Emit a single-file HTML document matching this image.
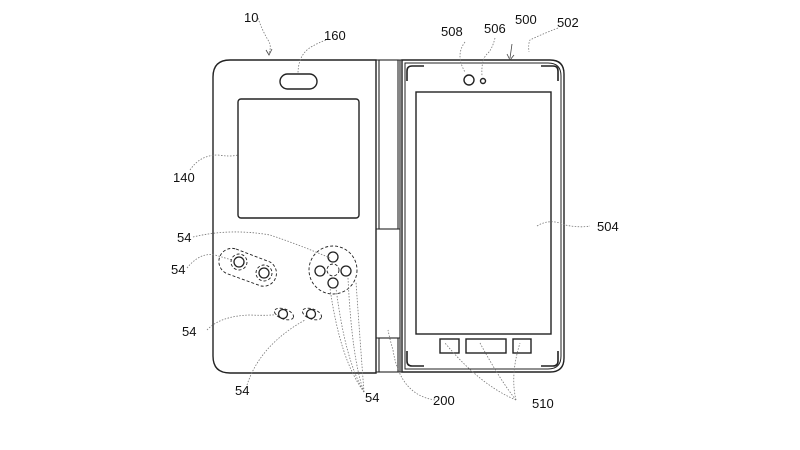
<!DOCTYPE html>
<html><head><meta charset="utf-8"><style>
html,body{margin:0;padding:0;background:#fff;}
svg{display:block}
text{font-family:"Liberation Sans",sans-serif;font-size:13px;fill:#111}
</style></head><body>
<svg width="800" height="450" viewBox="0 0 800 450" xmlns="http://www.w3.org/2000/svg">
<g fill="none" stroke="#222" stroke-width="1.4">
<path d="M376 60 H230 Q213 60 213 77 V356 Q213 373 230 373 H376 Z"/>
<rect x="238" y="99" width="121" height="119" rx="3"/>
<rect x="280" y="74" width="37" height="15" rx="7.5"/>
<g stroke-width="1.1">
<line x1="376" y1="60" x2="402" y2="60"/>
<line x1="376" y1="372" x2="402" y2="372"/>
<line x1="400" y1="60" x2="400" y2="372"/>
<rect x="379" y="60" width="19" height="169"/>
<rect x="379" y="338" width="19" height="34"/>
<line x1="376" y1="229" x2="400" y2="229"/>
<line x1="376" y1="338" x2="400" y2="338"/>
</g>
<path d="M402 60 H550 Q564 60 564 74 V358 Q564 372 550 372 H402 Z"/>
<path d="M405 63 H548 Q561 63 561 76 V356 Q561 369 548 369 H405 Z" stroke-width="1"/>
<path d="M407 81 V71 Q407 66 412 66 H424" stroke-width="1.6"/>
<path d="M541 66 H553 Q558 66 558 71 V81" stroke-width="1.6"/>
<path d="M407 351 V361 Q407 366 412 366 H424" stroke-width="1.6"/>
<path d="M541 366 H553 Q558 366 558 361 V351" stroke-width="1.6"/>
<rect x="416" y="92" width="135" height="242"/>
<rect x="440" y="339" width="19" height="14"/>
<rect x="466" y="339" width="40" height="14"/>
<rect x="513" y="339" width="18" height="14"/>
<circle cx="469" cy="80" r="5"/>
<circle cx="483" cy="81" r="2.5"/>
<g stroke-width="1.3">
<circle cx="333" cy="257" r="5"/><circle cx="320" cy="271" r="5"/>
<circle cx="346" cy="271" r="5"/><circle cx="333" cy="283" r="5"/>
<circle cx="239" cy="262" r="5"/><circle cx="264" cy="273" r="5"/>
<circle cx="283" cy="314" r="4.5"/><circle cx="311" cy="314" r="4.5"/>
</g>
<g stroke-dasharray="3 2" stroke-width="0.9">
<circle cx="333" cy="270" r="24"/>
<circle cx="333" cy="270" r="6"/>
<circle cx="239" cy="262" r="8"/><circle cx="264" cy="273" r="8"/>
<path d="M236 249 L270 262 A13 13 0 0 1 261 286 L228 274 A13 13 0 0 1 236 249 Z"/>
<ellipse cx="284" cy="314" rx="10" ry="5" transform="rotate(20 284 314)"/>
<ellipse cx="312" cy="314" rx="10" ry="5" transform="rotate(20 312 314)"/>
</g>
<g stroke="#777" stroke-width="0.8" stroke-dasharray="1.5 1.5">
<path d="M258 18 Q262 30 268 40 Q272 46 269 53"/>
<path d="M326 40 Q310 46 305 52 Q298 60 298 74"/>
<path d="M190 170 Q200 155 218 155 Q230 157 238 155"/>
<path d="M193 237 Q230 228 270 235 Q300 245 330 258"/>
<path d="M187 268 Q200 252 215 255 Q225 258 232 260"/>
<path d="M207 330 Q220 316 250 315 Q270 316 279 314"/>
<path d="M247 385 Q260 345 305 320"/>
<path d="M364 392 Q340 360 330 288"/>
<path d="M364 392 Q345 360 336 288"/>
<path d="M364 392 Q352 360 348 278"/>
<path d="M364 392 Q360 340 356 282"/>
<path d="M435 400 Q400 395 393 350 Q390 340 388 330"/>
<path d="M516 400 Q480 385 445 343"/>
<path d="M516 400 Q500 380 480 343"/>
<path d="M516 400 Q510 375 520 343"/>
<path d="M465 42 Q455 55 465 72"/>
<path d="M495 38 Q492 50 487 54 Q481 60 482 76"/>
<path d="M558 28 Q540 35 530 40 Q528 44 529 52"/>
<path d="M537 226 Q550 218 565 225 Q580 228 590 226"/>
</g>
<path d="M512 44 L510 58" stroke="#444" stroke-width="0.8"/>
<path d="M507 54 L510 60 L514 55" stroke="#444" stroke-width="0.8"/>
<path d="M266 50 L269 55 L272 49" stroke="#444" stroke-width="0.8"/>
</g>
<text x="244" y="22">10</text>
<text x="324" y="40">160</text>
<text x="173" y="182">140</text>
<text x="177" y="242">54</text>
<text x="171" y="274">54</text>
<text x="182" y="336">54</text>
<text x="235" y="395">54</text>
<text x="365" y="402">54</text>
<text x="433" y="405">200</text>
<text x="532" y="408">510</text>
<text x="597" y="231">504</text>
<text x="441" y="36">508</text>
<text x="484" y="33">506</text>
<text x="515" y="24">500</text>
<text x="557" y="27">502</text>
</svg>
</body></html>
